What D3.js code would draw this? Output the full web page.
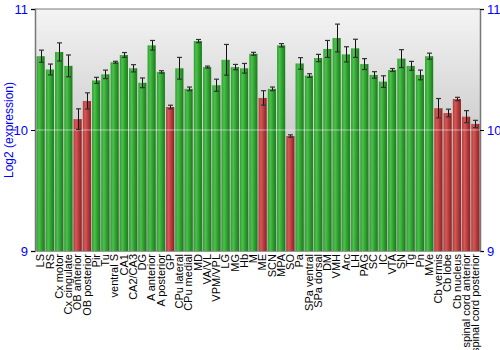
<!DOCTYPE html>
<html><head><meta charset="utf-8">
<script src="https://cdn.jsdelivr.net/npm/d3@7"></script>
<style>body{margin:0;background:#fff}svg{display:block}</style>
</head><body><svg id="c" width="500" height="350"></svg>
<script>
const categories = ["LS","RS","Cx motor","Cx cingulate","OB anterior","OB posterior","Pir","Tu","ventral S","CA1","CA2/CA3","DG","A anterior","A posterior","GP","CPu lateral","CPu medial","MD","VA/VL","VPM/VPL","LG","MG","Hb","M","ME","SCN","MPA","SO","Pa","SPa ventral","SPa dorsal","DM","VMH","Arc","LH","PAG","SC","IC","VTA","SN","Tg","Pn","MVe","Cb vermis","Cb lobe","Cb nucleus","spinal cord anterior","spinal cord posterior"];
const values = [10.61,10.50,10.645,10.53,10.09,10.24,10.41,10.46,10.56,10.62,10.51,10.39,10.70,10.48,10.19,10.51,10.34,10.735,10.52,10.37,10.58,10.52,10.51,10.63,10.265,10.34,10.70,9.95,10.55,10.45,10.595,10.67,10.76,10.625,10.675,10.545,10.455,10.40,10.496,10.59,10.53,10.455,10.61,10.18,10.14,10.256,10.11,10.05];
const errors = [0.05,0.045,0.075,0.09,0.085,0.067,0.025,0.035,0.008,0.02,0.03,0.04,0.04,0.01,0.015,0.09,0.015,0.013,0.008,0.05,0.127,0.022,0.04,0.012,0.06,0.015,0.014,0.01,0.048,0.015,0.03,0.07,0.115,0.063,0.075,0.045,0.027,0.048,0.012,0.074,0.037,0.04,0.025,0.08,0.032,0.014,0.05,0.03];
const lowGroup = ["OB anterior","OB posterior","GP","ME","SO","Cb vermis","Cb lobe","Cb nucleus","spinal cord anterior","spinal cord posterior"];
const yTicks = [9,10,11];

const svg = d3.select("#c");
const L=35, R=480, T=9, B=251;
const x = d3.scaleBand().domain(categories).range([L+1,R]).paddingInner(0.12).paddingOuter(0.06);
const y = d3.scaleLinear().domain([9,11]).range([B,T]);

const defs = svg.append("defs");
const bg = defs.append("linearGradient").attr("id","bg").attr("x1",0).attr("x2",0).attr("y1",0).attr("y2",1);
bg.append("stop").attr("offset","0%").attr("stop-color","#f4f4f4");
bg.append("stop").attr("offset","100%").attr("stop-color","#a9a9a9");
function barGrad(id, dark, mid, light){
  const g = defs.append("linearGradient").attr("id",id).attr("x1",0).attr("x2",1).attr("y1",0).attr("y2",0);
  g.append("stop").attr("offset","0%").attr("stop-color",mid);
  g.append("stop").attr("offset","30%").attr("stop-color",light);
  g.append("stop").attr("offset","65%").attr("stop-color",mid);
  g.append("stop").attr("offset","100%").attr("stop-color",dark);
}
barGrad("gG","#1a7a1a","#2e9e2e","#4cc04c");
barGrad("gR","#8a2222","#b43a3a","#d45858");

svg.append("rect").attr("x",L).attr("y",T).attr("width",R-L).attr("height",B-T).attr("fill","url(#bg)");

svg.append("g").selectAll("rect").data(categories).join("rect")
  .attr("x",d=>x(d)).attr("width",x.bandwidth())
  .attr("y",(d,i)=>y(values[i])).attr("height",(d,i)=>B-y(values[i]))
  .attr("fill",d=>lowGroup.includes(d)?"url(#gR)":"url(#gG)");

// gridline at 10
svg.append("line").attr("x1",L).attr("x2",R).attr("y1",y(10)).attr("y2",y(10))
  .attr("stroke","#ffffff").attr("stroke-opacity",0.5).attr("stroke-width",1);

// error bars
const eb = svg.append("g");
categories.forEach((c,i)=>{
  const cx = Math.round(x(c)+x.bandwidth()/2)+0.5;
  const y1 = y(values[i]+errors[i]), y2 = y(values[i]-errors[i]);
  eb.append("line").attr("x1",cx).attr("x2",cx).attr("y1",y1).attr("y2",y2).attr("stroke","#111").attr("stroke-width",1);
  [y1,y2].forEach(yy=>eb.append("line").attr("x1",cx-2.5).attr("x2",cx+2.5).attr("y1",yy).attr("y2",yy).attr("stroke","#333").attr("stroke-width",1.2));
});

// frame
svg.append("line").attr("x1",L).attr("x2",R).attr("y1",T).attr("y2",T).attr("stroke","#777");
const yl = svg.append("g").attr("transform",`translate(${L},0)`).call(d3.axisLeft(y).tickValues(yTicks).tickSize(4).tickFormat(d3.format("d")));
const yr = svg.append("g").attr("transform",`translate(${R},0)`).call(d3.axisRight(y).tickValues(yTicks).tickSize(4).tickFormat(d3.format("d")));
[yl,yr].forEach(g=>{
  g.select(".domain").attr("stroke","#777").attr("stroke-width",1.5);
  g.selectAll(".tick line").attr("stroke","#000");
  g.selectAll("text").attr("fill","#0000ff").style("font-family","'Liberation Sans',Arial,sans-serif").style("font-size","13px");
});

// x labels
const xl = svg.append("g").attr("transform",`translate(0,${B})`).call(d3.axisBottom(x).tickSize(0).tickPadding(0));
xl.select(".domain").attr("stroke","#999");
xl.selectAll("text").attr("transform","rotate(-90)").attr("text-anchor","end").attr("dx","-3").attr("dy","0.35em").attr("x",0).attr("y",0)
  .attr("fill","#000").style("font-family","'Liberation Sans',Arial,sans-serif").style("font-size","11px");

svg.append("text").attr("transform",`translate(13,${(T+B)/2}) rotate(-90)`).attr("text-anchor","middle")
  .attr("fill","#0000ff").style("font-family","'Liberation Sans',Arial,sans-serif").style("font-size","12px").text("Log2 (expression)");
</script></body></html>
